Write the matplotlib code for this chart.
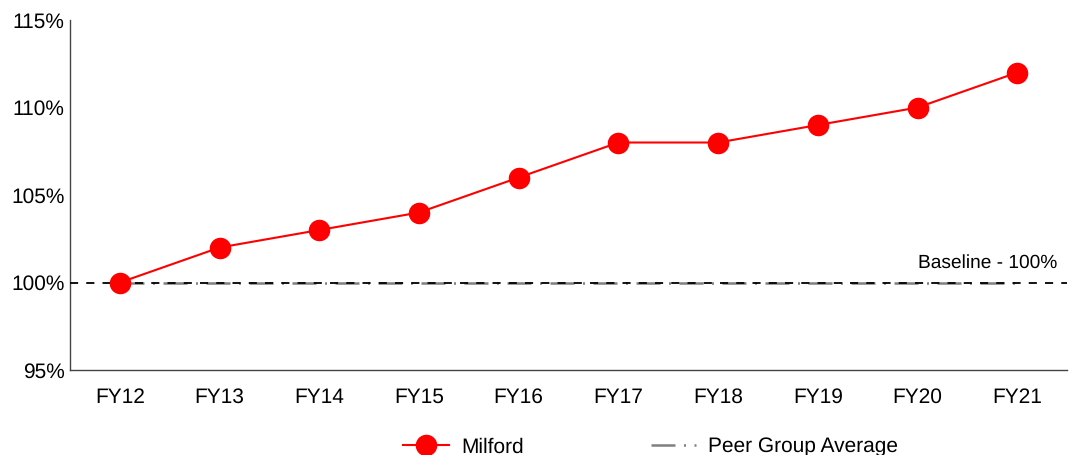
import matplotlib.pyplot as plt
from matplotlib.ticker import FuncFormatter

plt.rcParams['font.family'] = ['Liberation Sans', 'DejaVu Sans']
plt.rcParams['text.hinting'] = 'no_hinting'

years = ["FY12", "FY13", "FY14", "FY15", "FY16", "FY17", "FY18", "FY19", "FY20", "FY21"]
milford = [100, 102, 103, 104, 106, 108, 108, 109, 110, 112]
peer_avg = [100, 100, 100, 100, 100, 100, 100, 100, 100, 100]
baseline = 100

fig = plt.figure(figsize=(10.79, 4.55), dpi=100)
ax = fig.add_axes([0.0649, 0.1868, 0.9241, 0.7692])

x = list(range(len(years)))
ax.plot(x, peer_avg, color="#808080", lw=1.8, linestyle=(0, (9.6, 3.4, 0.8, 3.4)),
        label="Peer Group Average", zorder=2)
ax.axhline(baseline, color="black", lw=1.3, linestyle=(0, (4.5, 4.5)), zorder=3)
ax.plot(x, milford, color="#ff0000", lw=1.5, marker="o", markersize=14.5,
        label="Milford", zorder=4)

ax.text(len(years) - 0.6, baseline + 0.6, "Baseline - 100%", ha="right",
        va="bottom", fontsize=13.8)

ax.set_xlim(-0.5, len(years) - 0.5)
ax.set_ylim(95, 115)
ax.set_yticks([95, 100, 105, 110, 115])
ax.yaxis.set_major_formatter(FuncFormatter(lambda v, p: f"{v:.0f}%"))
ax.set_xticks(x)
ax.set_xticklabels(years)
ax.tick_params(length=0, labelsize=15)
ax.tick_params(axis="x", pad=13)
ax.tick_params(axis="y", pad=4)

for s in ["top", "right"]:
    ax.spines[s].set_visible(False)
for s in ["left", "bottom"]:
    ax.spines[s].set_color("#444444")
    ax.spines[s].set_linewidth(1)

handles, labels = ax.get_legend_handles_labels()
fig.legend(handles[::-1], labels[::-1], loc="center", ncol=2, frameon=False,
           fontsize=15, bbox_to_anchor=(0.603, 0.017), columnspacing=6.1,
           handlelength=2.2, handletextpad=0.58)

fig.savefig("out.png", dpi=100)
